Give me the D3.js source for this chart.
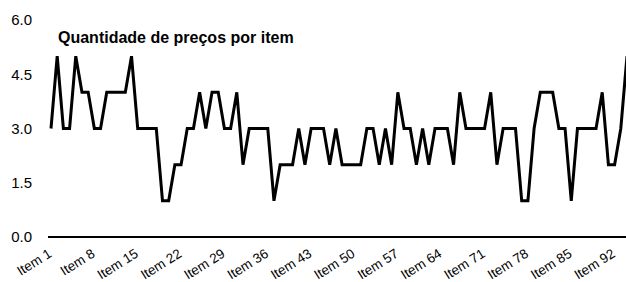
<!DOCTYPE html>
<html lang="en">
  <head>
    <meta charset="utf-8">
    <style>
      body { margin: 0; background: #fff; }
      text { font-family: "Liberation Sans", Arial, sans-serif; fill: #000; }
    </style>
  </head>
  <body>
    <script src="https://d3js.org/d3.v7.min.js"></script>
    <script>
      var width = 626,
        height = 282;

      // quantidade de preços, item 1 .. item 94
      var values = [3, 5, 3, 3, 5, 4, 4, 3, 3, 4, 4, 4, 4, 5, 3, 3, 3, 3, 1, 1,
        2, 2, 3, 3, 4, 3, 4, 4, 3, 3, 4, 2, 3, 3, 3, 3, 1, 2, 2, 2,
        3, 2, 3, 3, 3, 2, 3, 2, 2, 2, 2, 3, 3, 2, 3, 2, 4, 3, 3, 2,
        3, 2, 3, 3, 3, 2, 4, 3, 3, 3, 3, 4, 2, 3, 3, 3, 1, 1, 3, 4,
        4, 4, 3, 3, 1, 3, 3, 3, 3, 4, 2, 2, 3, 5];
      var categories = values.map(function (d, i) { return "Item " + (i + 1); });
      var tickLabels = ["Item 1", "Item 8", "Item 15", "Item 22", "Item 29", "Item 36", "Item 43",
        "Item 50", "Item 57", "Item 64", "Item 71", "Item 78", "Item 85", "Item 92"];
      var yTicks = [0, 1.5, 3, 4.5, 6];

      var svg = d3.select("body")
        .append("svg")
        .attr("width", width)
        .attr("height", height);

      var x = d3.scalePoint().domain(categories).range([51, 627]);
      var y = d3.scaleLinear().domain([0, 6]).range([237, 20]);

      // y labels, no axis line
      var yAxis = svg.append("g")
        .attr("transform", "translate(32,0)")
        .call(d3.axisLeft(y).tickValues(yTicks).tickFormat(d3.format(".1f")).tickSize(0).tickPadding(0));
      yAxis.select(".domain").remove();
      yAxis.selectAll("text").style("font-size", "15px").attr("fill", "#000");

      // x axis
      var xAxis = svg.append("g")
        .attr("transform", "translate(0,237)")
        .call(d3.axisBottom(x).tickValues(tickLabels).tickSize(0).tickSizeOuter(0));
      xAxis.select(".domain")
        .attr("d", "M48,0H626")
        .attr("stroke", "#000")
        .attr("stroke-width", 2);
      xAxis.selectAll("text")
        .style("font-size", "13.5px")
        .attr("fill", "#000")
        .attr("text-anchor", "end")
        .attr("y", 0)
        .attr("dy", 0)
        .attr("transform", "translate(1,19) rotate(-32)");

      // line
      var line = d3.line()
        .x(function (d, i) { return x(categories[i]); })
        .y(function (d) { return y(d); });

      svg.append("path")
        .datum(values)
        .attr("fill", "none")
        .attr("stroke", "#000")
        .attr("stroke-width", 3)
        .attr("stroke-linejoin", "miter")
        .attr("d", line);

      svg.append("text")
        .attr("x", 58)
        .attr("y", 43)
        .style("font-size", "16px")
        .style("font-weight", "bold")
        .text("Quantidade de preços por item");
    </script>
  </body>
</html>
